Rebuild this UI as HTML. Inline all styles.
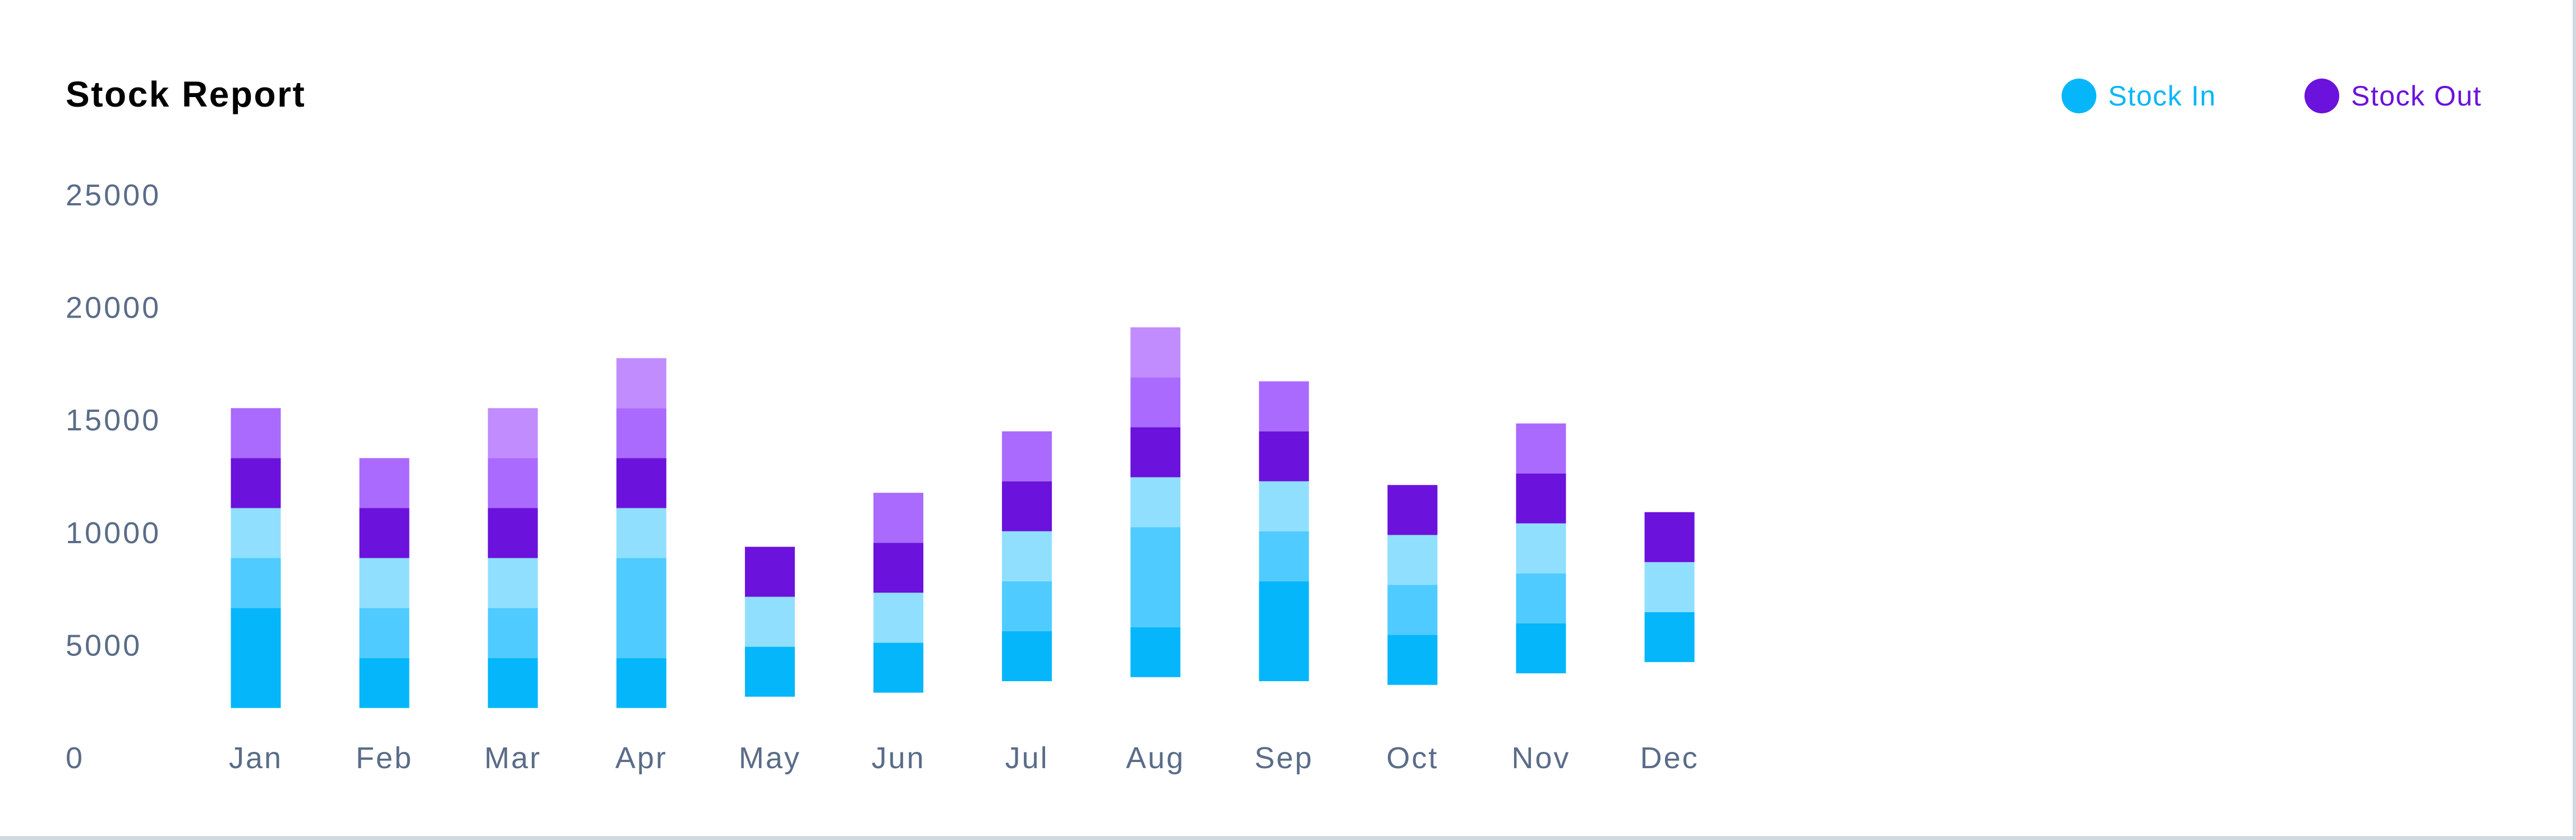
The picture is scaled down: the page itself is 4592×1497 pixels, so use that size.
<!DOCTYPE html>
<html><head><meta charset="utf-8"><style>
html,body{margin:0;padding:0;background:#fff;}
svg{display:block;font-family:"Liberation Sans",sans-serif;}
</style></head><body>
<svg id="chart" width="4592" height="1497" viewBox="0 0 4592 1497">
<rect x="0" y="0" width="4592" height="1497" fill="#fff"/>
<rect x="4586" y="0" width="6" height="1497" fill="#d0d8e0"/>
<rect x="0" y="1490" width="4592" height="7" fill="#d0d8e0"/>
<text x="117" y="190" font-size="64" font-weight="bold" letter-spacing="2.5" fill="#000">Stock Report</text>
<g>
<g><circle cx="3706" cy="171" r="31" fill="#06b6fa"/><text x="3758" y="188" font-size="50" letter-spacing="1.5" fill="#06b6fa">Stock In</text></g>
<g><circle cx="4139" cy="171" r="31" fill="#6b12dc"/><text x="4191" y="188" font-size="50" letter-spacing="1.5" fill="#6b12dc">Stock Out</text></g>
</g>
<g id="yaxis"></g>
<g id="xaxis"></g>
<g id="bars"></g>
</svg>
<script>
const months=["Jan","Feb","Mar","Apr","May","Jun","Jul","Aug","Sep","Oct","Nov","Dec"];
const yTicks=[0,5000,10000,15000,20000,25000];
const base=[2200,2200,2200,2200,2700,2880,3390,3570,3390,3225,3740,4240];
const stockIn1=[4440,2220,2220,2220,2220,2220,2220,2220,4440,2220,2220,2220];
const stockIn2=[2220,2220,2220,4440,0,0,2220,4440,2220,2220,2220,0];
const stockIn3=[2220,2220,2220,2220,2220,2220,2220,2220,2220,2220,2220,2220];
const stockOut1=[2220,2220,2220,2220,2220,2220,2220,2220,2220,2220,2220,2220];
const stockOut2=[2220,2220,2220,2220,0,2220,2220,2220,2220,0,2220,0];
const stockOut3=[0,0,2220,2220,0,0,0,2220,0,0,0,0];
const series=[stockIn1,stockIn2,stockIn3,stockOut1,stockOut2,stockOut3];
const seriesNames=["stock-in-1","stock-in-2","stock-in-3","stock-out-1","stock-out-2","stock-out-3"];
const colors=["#06b6fa","#4fcbff","#90dfff","#6b12dc","#aa6afd","#c18cfd"];
const NS="http://www.w3.org/2000/svg";
const y0=1350,pxPer=200.6/5000;
function yScale(v){return y0-v*pxPer;}
function xScale(i){return 456+i*229.1;}
const barW=89;
const ya=document.getElementById('yaxis');
yTicks.forEach(t=>{
 const el=document.createElementNS(NS,'text');
 el.setAttribute('x',117);el.setAttribute('y',yScale(t)+19);
 el.setAttribute('font-size',54);el.setAttribute('fill','#5a6c88');
 el.setAttribute('letter-spacing',4);
 el.textContent=t;
 
 
 ya.appendChild(el);
});
const xa=document.getElementById('xaxis');
months.forEach((m,i)=>{
 const el=document.createElementNS(NS,'text');
 el.setAttribute('x',xScale(i));el.setAttribute('y',1369);
 el.setAttribute('font-size',54);el.setAttribute('fill','#5a6c88');
 el.setAttribute('letter-spacing',3);
 el.setAttribute('text-anchor','middle');
 el.textContent=m;
 
 
 xa.appendChild(el);
});
const bg=document.getElementById('bars');
months.forEach((m,i)=>{
 let acc=base[i];
 series.forEach((s,k)=>{
  const v=s[i]; if(!v) return;
  const r=document.createElementNS(NS,'rect');
  const top=yScale(acc+v),bot=yScale(acc);
  r.setAttribute('x',xScale(i)-barW/2);r.setAttribute('y',top);
  r.setAttribute('width',barW);r.setAttribute('height',bot-top);
  r.setAttribute('fill',colors[k]);
  
  
  bg.appendChild(r);
  acc+=v;
 });
});
</script>
</body></html>
